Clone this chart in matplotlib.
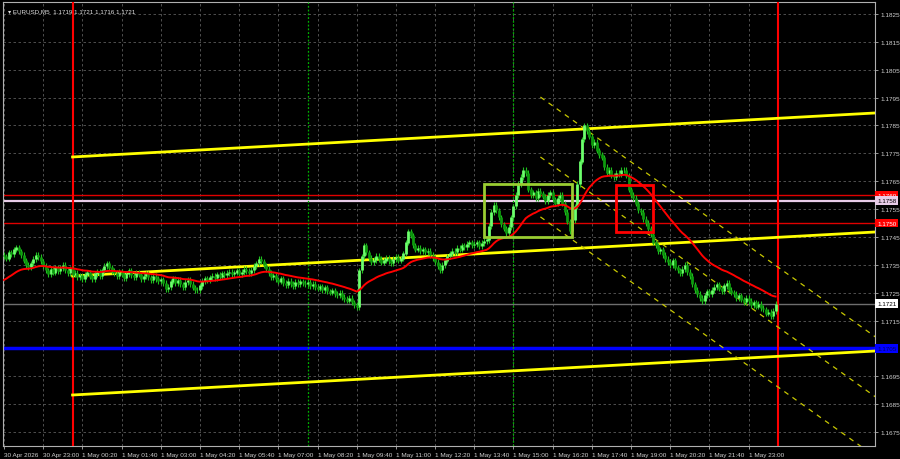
import numpy as np
import pandas as pd
import matplotlib
matplotlib.use('Agg')
import matplotlib.pyplot as plt
import matplotlib.transforms as mtransforms
from matplotlib.patches import Rectangle

plt.rcParams['font.family'] = ['Liberation Sans', 'DejaVu Sans']

# EURUSD M5, closes in points above 1.17000 (1 point = 0.00001)
closes_pts = [
    380, 372, 395, 388, 405, 412, 398, 385,
    365, 350, 342, 355,
    370, 385, 378, 362,
    345, 330, 318, 335, 322, 340, 328,
    338, 350, 332, 320, 336, 315,
    320, 305, 312, 298, 315, 322, 308, 300, 318, 325, 310, 330,
    345, 355, 340, 328,
    320, 310, 325, 315, 302, 318, 330, 312, 305, 320, 315, 300, 310, 318,
    305, 295, 310, 300, 292, 298,
    285, 262, 270, 290, 300, 285, 295, 280, 270, 288, 296, 282, 268, 260, 258, 275, 292,
    300, 295, 305, 310, 302, 315, 308, 318, 312, 320, 325, 316, 322, 330, 318, 325, 335, 328, 320, 332,
    345, 355, 370, 362, 348, 335,
    320, 305, 312, 298, 290, 300, 285, 278, 292, 282, 275, 288, 280, 290,
    285, 280, 288, 275, 282, 270, 265, 272, 260, 268, 255, 250, 258, 245, 240, 248, 235, 228, 222, 230, 215, 205, 198,
    330, 380, 420, 395, 375, 360, 368, 382, 370, 358, 365, 375, 362, 355, 370, 378, 365, 372,
    390, 430, 470, 455, 420, 405, 410, 398, 405, 395, 400, 385,
    375, 360, 345, 330, 350, 365, 380,
    390, 400, 395, 410, 405, 420, 415, 425, 430, 420,
    425, 430, 418, 428, 435, 440, 490, 540, 565, 545, 520, 495, 480, 465, 485,
    520, 560, 600, 640, 665, 690, 680,
    620, 600, 610, 590, 615, 605,
    595, 580, 600, 610, 585, 570, 590, 600,
    570, 540, 505, 470, 510, 560,
    640, 720, 800, 850,
    830, 810, 780, 790, 760, 745, 735,
    700, 680, 690, 670, 665, 680, 675, 690,
    690, 670,
    620, 600, 590, 570, 545, 540, 515, 500, 480, 460,
    430, 420, 400, 405, 385, 370, 360, 350, 365, 340, 330, 320,
    335, 350, 325, 310,
    280, 260, 245, 230, 220, 240, 255, 245, 260,
    270, 280, 265, 255, 275, 285, 260, 250,
    245, 230, 240, 225, 215, 230, 220, 205, 215, 200, 210, 195,
    190, 175, 180, 165, 185, 210,
]
first_open_pts = 385
ma_seed_pts = 290

time_labels = ['30 Apr 2026', '30 Apr 23:00', '1 May 00:20', '1 May 01:40', '1 May 03:00',
               '1 May 04:20', '1 May 05:40', '1 May 07:00', '1 May 08:20', '1 May 09:40',
               '1 May 11:00', '1 May 12:20', '1 May 13:40', '1 May 15:00', '1 May 16:20',
               '1 May 17:40', '1 May 19:00', '1 May 20:20', '1 May 21:40', '1 May 23:00']
bars_per_label = 16

price_ticks = [1.1675, 1.1685, 1.1695, 1.1705, 1.1715, 1.1725, 1.1735, 1.1745,
               1.1755, 1.1765, 1.1775, 1.1785, 1.1795, 1.1805, 1.1815, 1.1825]

day_bars = [28, 316]          # 00:00 separators
session_bars = [124, 208]     # 08:00 and 15:00
levels_red = [1.1760, 1.1750]
level_pink = 1.1758
level_blue = 1.1705
last_price = 1.1721

# linear regression channel (yellow)
reg_bars = [28, 356]
reg_mid = [1.17310, 1.17468]
reg_width = 0.00427

# descending channel (dashed)
down_bars = [219, 356]
down_top = [1.17952, 1.17090]
down_step = 0.00215

green_box = [196, 232, 1.17450, 1.17640]
red_box = [250, 265, 1.17468, 1.17636]

closes = 1.17 + np.array(closes_pts) / 1e5
opens = np.concatenate([[1.17 + first_open_pts / 1e5], closes[:-1]])
idx = np.arange(len(closes))

ma = pd.Series(np.concatenate([[1.17 + ma_seed_pts / 1e5], closes])).ewm(span=30, adjust=False).mean().values[1:]

fig = plt.figure(figsize=(9, 4.6), dpi=100, facecolor='black')
ax = fig.add_axes([3 / 900, 13 / 460, 872 / 900, 444 / 460])
ax.set_facecolor('black')
ax.set_xlim(-0.4, 355.6)
ax.set_ylim(1.16700, 1.18293)

# grid
for p in price_ticks:
    ax.axhline(p, color='#5a5a5a', lw=0.6, ls=(0, (3, 3)), zorder=1)
for k in range(len(time_labels)):
    ax.axvline(k * bars_per_label, color='#5a5a5a', lw=0.6, ls=(0, (3, 3)), zorder=1)

# horizontal levels
ax.axhline(last_price, color='#6e6e6e', lw=1, zorder=2)
for p in levels_red:
    ax.axhline(p, color='#e00000', lw=1, zorder=2)
ax.axhline(level_pink, color='#e8cce8', lw=1.6, zorder=2)
ax.axhline(level_blue, color='#0000ff', lw=2.5, zorder=2)

# verticals
for b in day_bars:
    ax.axvline(b, color='#ff0000', lw=1.5, zorder=3)
for b in session_bars:
    ax.axvline(b, color='#00b000', lw=0.9, ls=(0, (1.5, 1.5)), zorder=3)

# regression channel
for off in (-reg_width, 0, reg_width):
    ax.plot(reg_bars, [reg_mid[0] + off, reg_mid[1] + off], color='#ffff00', lw=2, zorder=4)

# descending channel
for k in range(3):
    ax.plot(down_bars, [down_top[0] - k * down_step, down_top[1] - k * down_step],
            color='#c8c800', lw=0.9, ls=(0, (4, 4)), zorder=4)

# candles
wick = 0.0001
up = closes >= opens
lo = np.minimum(opens, closes)
hi = np.maximum(opens, closes)
ax.vlines(idx, lo - wick, hi + wick, color='#1fbf1f', lw=0.8, zorder=5)
ax.vlines(idx[up], lo[up], hi[up] + 0.00001, color='#6cff6c', lw=2.0, zorder=6)
ax.vlines(idx[~up], lo[~up], hi[~up] + 0.00001, color='#0e9a0e', lw=2.0, zorder=6)

# moving average
ax.plot(idx, ma, color='#ff0000', lw=1.4, zorder=7)

# boxes
ax.add_patch(Rectangle((green_box[0], green_box[2]), green_box[1] - green_box[0], green_box[3] - green_box[2],
                       fill=False, ec='#9acd32', lw=2, zorder=8))
ax.add_patch(Rectangle((red_box[0], red_box[2]), red_box[1] - red_box[0], red_box[3] - red_box[2],
                       fill=False, ec='#ff0000', lw=2, zorder=8))

# axes styling
for s in ax.spines.values():
    s.set_color('#b0b0b0')
    s.set_linewidth(0.8)
ax.yaxis.tick_right()
ax.set_yticks(price_ticks)
# the blue level tag covers its tick label
ax.set_yticklabels(['' if p == level_blue else '%.4f' % p for p in price_ticks])
ax.set_xticks([k * bars_per_label for k in range(len(time_labels))])
ax.set_xticklabels(time_labels, ha='left')
ax.tick_params(axis='both', colors='#b0b0b0', labelcolor='#d0d0d0', labelsize=4.6, length=2.5, width=0.6, pad=1.5)
ax.tick_params(axis='x', pad=2)

# right-side price tags
trans = mtransforms.blended_transform_factory(ax.transAxes, ax.transData)
tags = [(1.1760, '1.1760', '#ff0000', 'white'),
        (1.1758, '1.1758', '#e8cce8', 'black'),
        (1.1750, '1.1750', '#ff0000', 'white'),
        (last_price, '1.1721', 'white', 'black'),
        (level_blue, '1.1705', '#0000ff', '#000060')]
for p, t, fc, tc in tags:
    ax.text(1.0025, p, t, transform=trans, fontsize=4.5, color=tc, va='center', ha='left',
            bbox=dict(boxstyle='square,pad=0.3', fc=fc, ec='none'), clip_on=False, zorder=10)

ax.text(0.006, 0.985, '\u25be EURUSD,M5  1.1719 1.1721 1.1716 1.1721', transform=ax.transAxes,
        fontsize=4.5, color='#e0e0e0', va='top', ha='left', zorder=10)

fig.savefig('out.png', dpi=100, facecolor='black')
